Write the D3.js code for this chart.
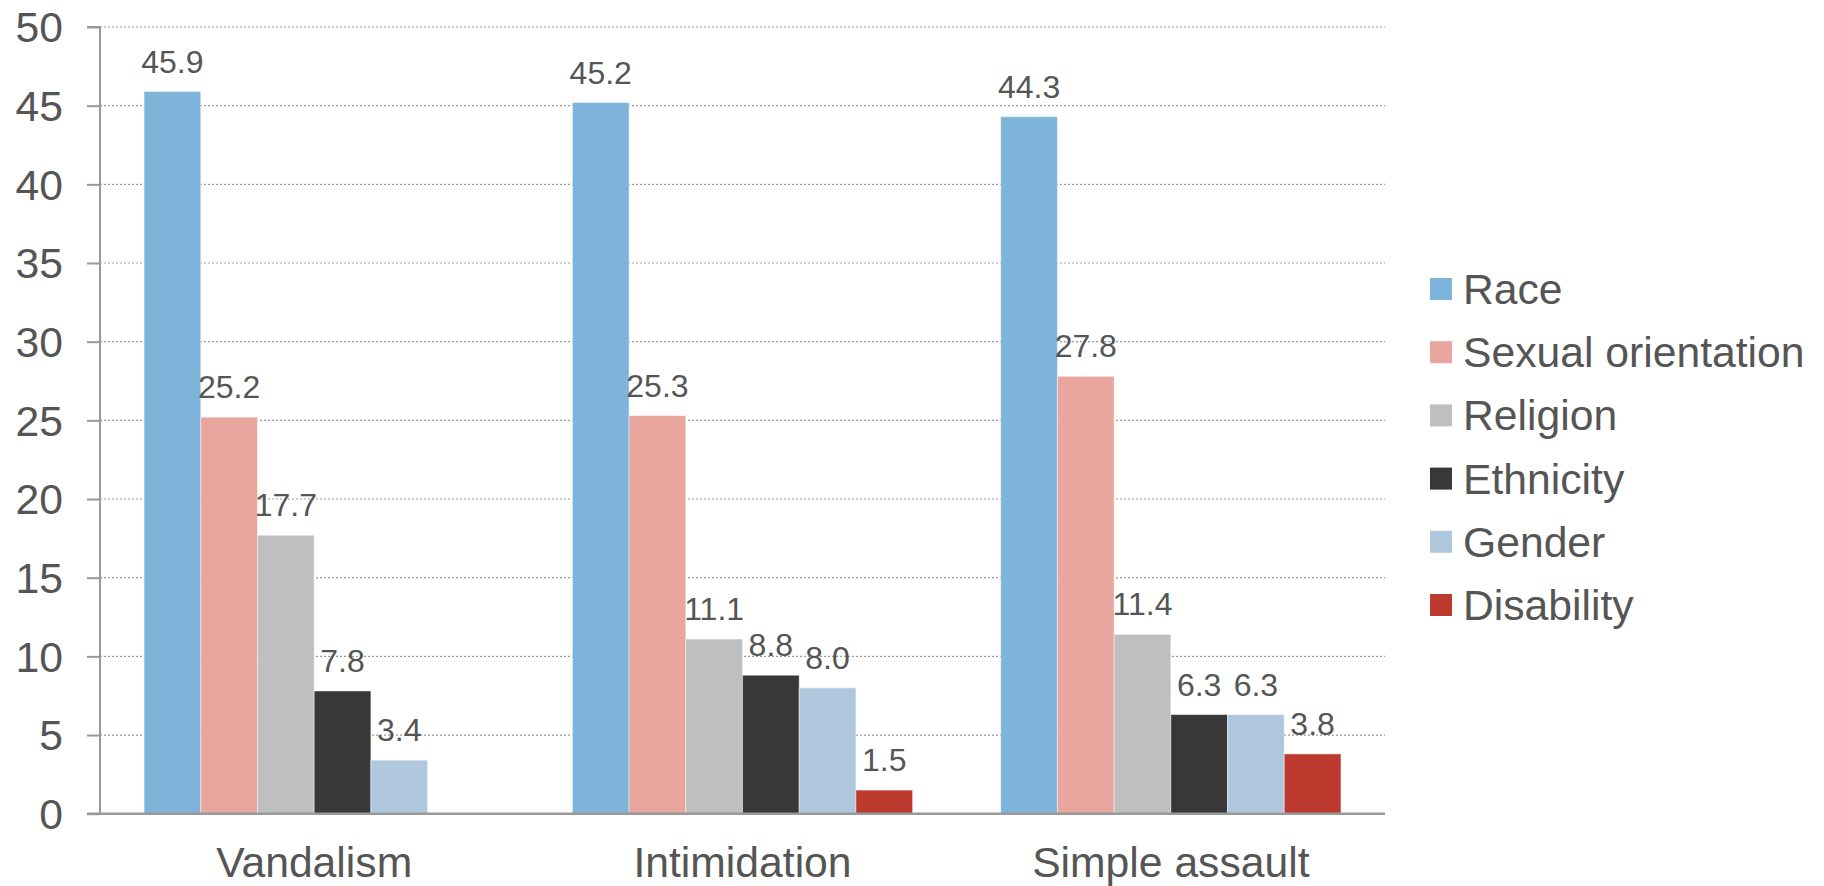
<!DOCTYPE html>
<html>
<head>
<meta charset="utf-8">
<script src="https://cdn.jsdelivr.net/npm/d3@7"></script>
<style>
  html, body { margin: 0; padding: 0; background: #fff; }
  svg { display: block; }
  text { font-family: "Liberation Sans", Arial, sans-serif; fill: #555555; }
</style>
</head>
<body>
<svg id="chart" width="1824" height="886"></svg>
<script>
const categories = ["Vandalism", "Intimidation", "Simple assault"];
const seriesNames = ["Race", "Sexual orientation", "Religion", "Ethnicity", "Gender", "Disability"];
const seriesColors = ["#7EB4D9", "#E8A69E", "#BFBFBF", "#383838", "#AFC7DD", "#BC3A2E"];
const race = [45.9, 45.2, 44.3];
const sexualOrientation = [25.2, 25.3, 27.8];
const religion = [17.7, 11.1, 11.4];
const ethnicity = [7.8, 8.8, 6.3];
const gender = [3.4, 8.0, 6.3];
const disability = [null, 1.5, 3.8];
const yTicks = [0, 5, 10, 15, 20, 25, 30, 35, 40, 45, 50];

const seriesValues = [race, sexualOrientation, religion, ethnicity, gender, disability];

const svg = d3.select("#chart");
const mLeft = 100, mRight = 1385, mTop = 27, mBottom = 813.7;

const x0 = d3.scaleBand().domain(categories).range([mLeft, mRight]).paddingInner(0).paddingOuter(0);
const x1 = d3.scaleBand().domain(seriesNames).range([0, x0.bandwidth()]).paddingInner(0).paddingOuter(0.777);
const y = d3.scaleLinear().domain([0, 50]).range([mBottom, mTop]);

// gridlines
svg.append("g").selectAll("line").data(yTicks.filter(d => d > 0)).join("line")
  .attr("x1", mLeft).attr("x2", mRight)
  .attr("y1", d => y(d)).attr("y2", d => y(d))
  .attr("stroke", "#9a9a9a").attr("stroke-width", 1.2).attr("stroke-dasharray", "2,2");

// bars
const groups = svg.append("g").selectAll("g").data(categories).join("g")
  .attr("transform", c => `translate(${x0(c)},0)`);

groups.each(function(c, ci) {
  const g = d3.select(this);
  const data = seriesNames.map((s, si) => ({ s, si, v: seriesValues[si][ci] })).filter(d => d.v != null);
  g.selectAll("rect").data(data).join("rect")
    .attr("x", d => x1(d.s))
    .attr("width", x1.bandwidth())
    .attr("y", d => y(d.v))
    .attr("height", d => y(0) - y(d.v))
    .attr("fill", d => seriesColors[d.si])
    .attr("stroke", "#ffffff").attr("stroke-opacity", 0.45).attr("stroke-width", 1);
  g.selectAll("text").data(data).join("text")
    .attr("x", d => x1(d.s) + x1.bandwidth() / 2)
    .attr("y", d => y(d.v) - 19)
    .attr("text-anchor", "middle")
    .attr("font-size", 32)
    .text(d => d.v.toFixed(1));
});

// y axis
const yAxis = d3.axisLeft(y).tickValues(yTicks).tickSize(13).tickPadding(24).tickFormat(d3.format("d"));
const ya = svg.append("g").attr("transform", `translate(${mLeft},0)`).call(yAxis);
ya.select(".domain").attr("stroke", "#999").attr("stroke-width", 2).attr("d", `M-13,${mTop}H0V${mBottom}`);
ya.selectAll(".tick line").attr("stroke", "#999").attr("stroke-width", 2);
ya.selectAll(".tick text").attr("font-size", 42.67).attr("fill", "#555").attr("font-family", "Liberation Sans, Arial, sans-serif").attr("dy", "0.35em");

// x axis
const xAxis = d3.axisBottom(x0).tickSize(0).tickPadding(33);
const xa = svg.append("g").attr("transform", `translate(0,${mBottom})`).call(xAxis);
xa.select(".domain").attr("stroke", "#999").attr("stroke-width", 2.5).attr("d", `M${mLeft - 13},0H${mRight}`);
xa.selectAll(".tick text").attr("font-size", 42.67).attr("fill", "#555").attr("font-family", "Liberation Sans, Arial, sans-serif");

// legend
const legend = svg.append("g").attr("transform", "translate(1430,289)");
const li = legend.selectAll("g").data(seriesNames).join("g")
  .attr("transform", (d, i) => `translate(0,${i * 63.2})`);
li.append("rect").attr("x", 0).attr("y", -11).attr("width", 22).attr("height", 22)
  .attr("fill", (d, i) => seriesColors[i]);
li.append("text").attr("x", 33).attr("y", 0).attr("dy", "0.35em")
  .attr("font-size", 42.67).text(d => d);
</script>
</body>
</html>
